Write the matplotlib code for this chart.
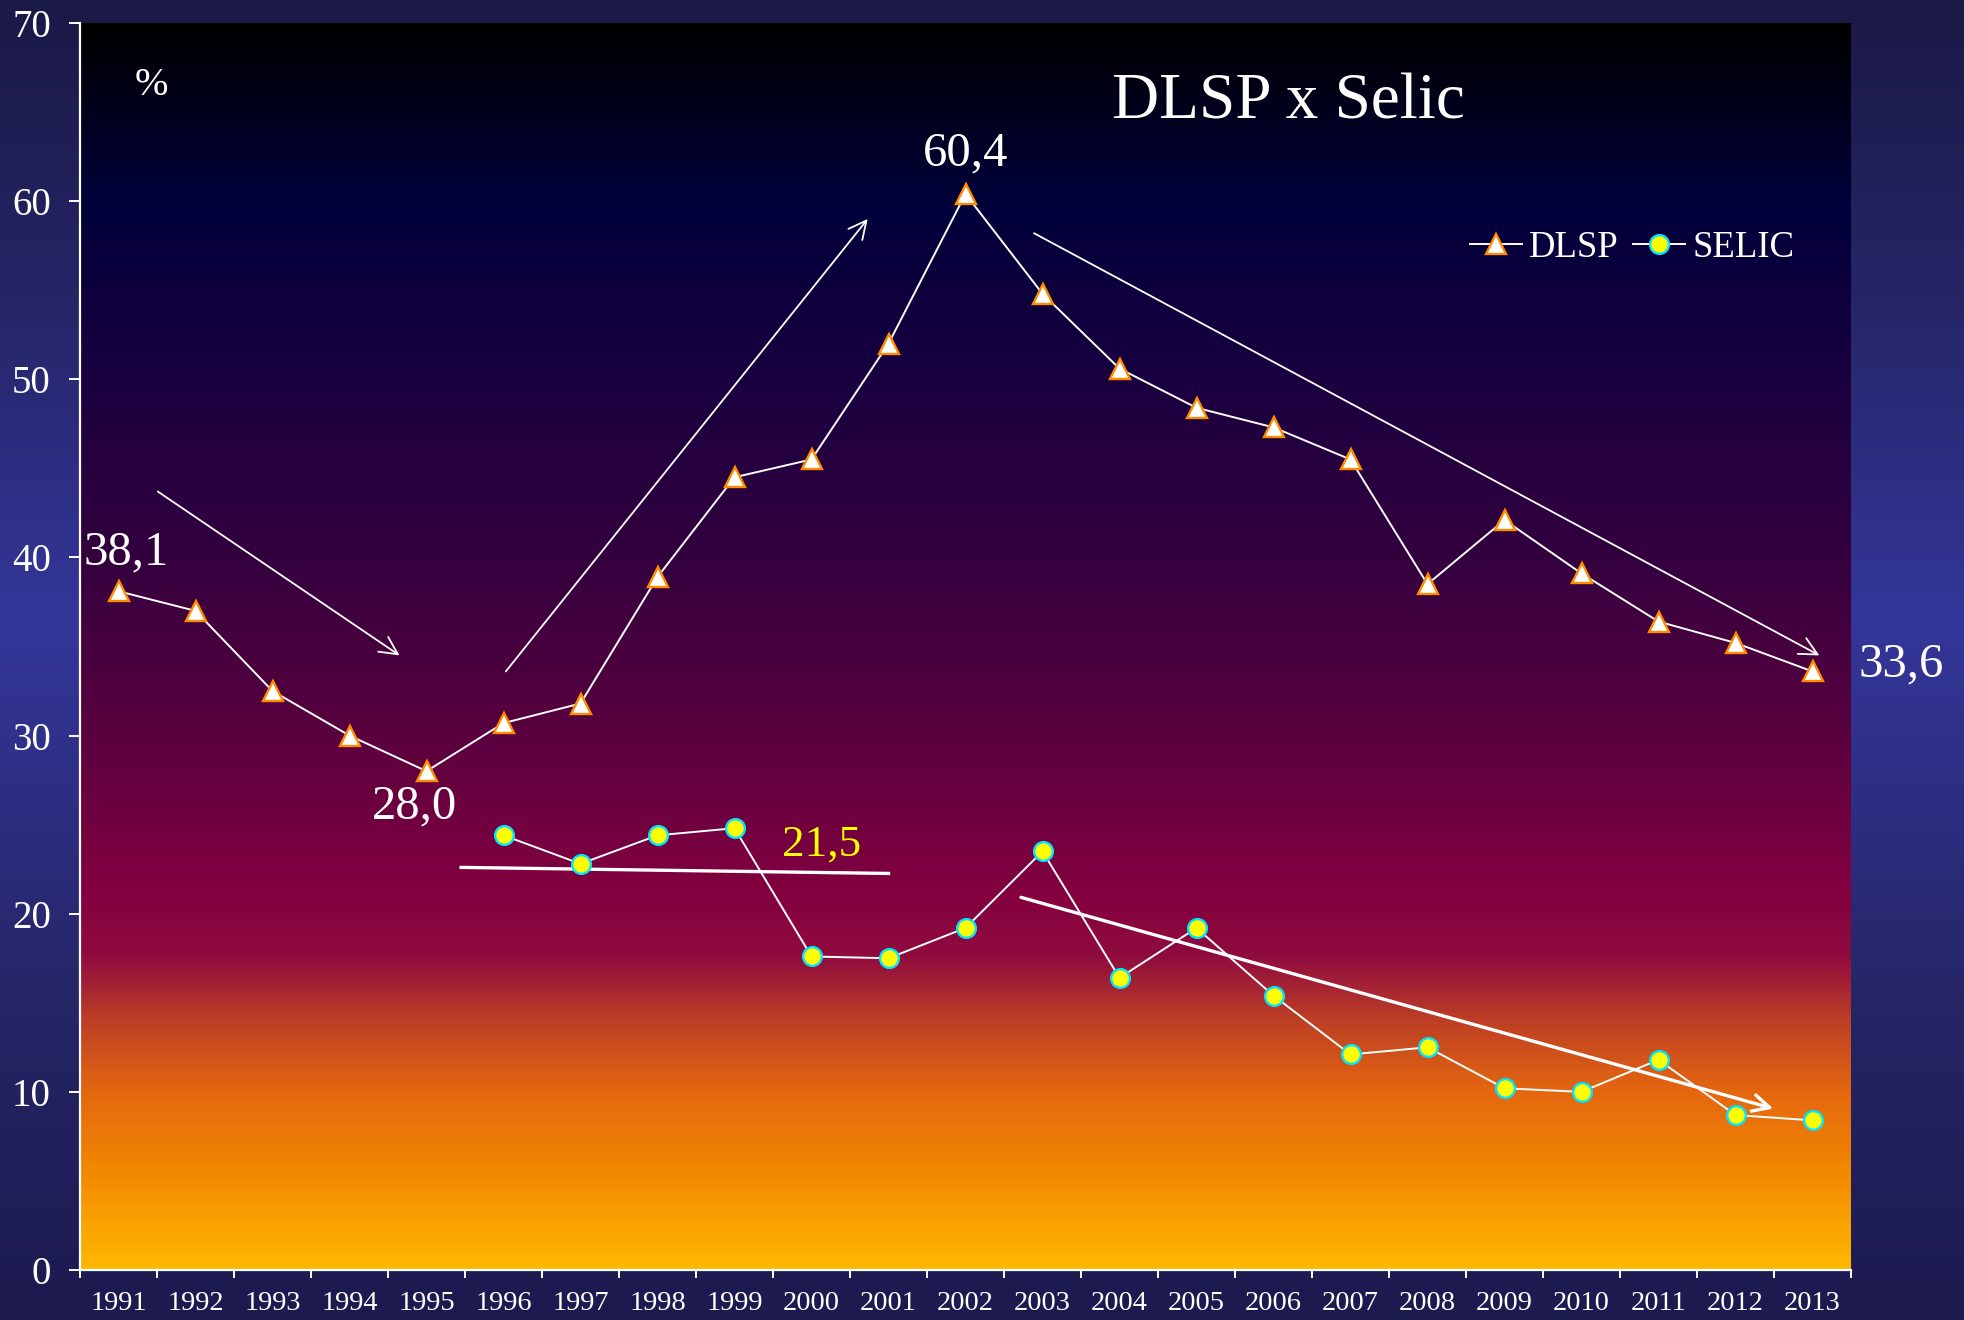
import numpy as np
import matplotlib
matplotlib.use("Agg")
import matplotlib.pyplot as plt
from matplotlib.colors import LinearSegmentedColormap

# ---------------- data ----------------
years = [str(y) for y in range(1991, 2014)]
dlsp = [38.1, 37.0, 32.5, 30.0, 28.0, 30.7, 31.8, 38.9, 44.5, 45.5, 52.0, 60.4,
        54.8, 50.6, 48.4, 47.3, 45.5, 38.5, 42.1, 39.1, 36.4, 35.2, 33.6]
selic_years = [str(y) for y in range(1996, 2014)]
selic = [24.4, 22.8, 24.4, 24.8, 17.6, 17.5, 19.2, 23.5, 16.4, 19.2, 15.4, 12.1,
         12.5, 10.2, 10.0, 11.8, 8.7, 8.4]
yticks = [0, 10, 20, 30, 40, 50, 60, 70]

plt.rcParams['font.family'] = ['Liberation Serif', 'DejaVu Serif']

W, H = 1964, 1320
fig = plt.figure(figsize=(W / 100, H / 100), dpi=100)

# figure background gradient
bg = fig.add_axes([0, 0, 1, 1], zorder=0)
bg_cmap = LinearSegmentedColormap.from_list(
    "figbg", [(0.0, "#1c1a4e"), (0.25, "#262668"), (0.53, "#34369a"),
              (0.78, "#252566"), (1.0, "#1b1946")])
grad = np.linspace(0, 1, 512).reshape(-1, 1)
bg.imshow(grad, aspect='auto', cmap=bg_cmap, extent=[0, 1, 0, 1], origin='lower')
bg.set_axis_off()

# main axes
left, right, top, bottom = 80, 1851, 23, 1270
ax = fig.add_axes([left / W, (H - bottom) / H, (right - left) / W, (bottom - top) / H], zorder=1)
ax.patch.set_alpha(0)

n = len(years)
x = np.arange(n)
ax.set_xlim(-0.5, n - 0.5)
ax.set_ylim(0, 70)

# axes background gradient (by data value)
stops = [(0, "#ffb800"), (5, "#f38c00"), (10, "#e46610"), (14, "#bc3e26"),
         (17.5, "#900c3e"), (21, "#840040"), (30, "#5a003f"), (40, "#34003e"),
         (50, "#1a0040"), (60, "#00003a"), (66, "#000018"), (70, "#000000")]
ax_cmap = LinearSegmentedColormap.from_list("axbg", [(v / 70, c) for v, c in stops])
ax.imshow(np.linspace(0, 1, 1024).reshape(-1, 1), aspect='auto', cmap=ax_cmap,
          extent=[-0.5, n - 0.5, 0, 70], origin='lower', zorder=0)

# series
sx = [years.index(y) for y in selic_years]
ax.plot(x, dlsp, color='white', lw=1.4, marker='^', ms=15, mfc='white',
        mec='#ff8c00', mew=1.7, label='DLSP', zorder=4)
ax.plot(sx, selic, color='white', lw=1.4, marker='o', ms=13.5, mfc='#ffff00',
        mec='#00e5ff', mew=1.7, label='SELIC', zorder=4)

# arrows / trend lines
arrow_kw = dict(arrowstyle='->', color='white', lw=1.3, mutation_scale=32,
                shrinkA=0, shrinkB=0)
ax.annotate('', xy=(3.65, 34.5), xytext=(0.51, 43.7), arrowprops=arrow_kw, zorder=3)
ax.annotate('', xy=(9.73, 59.0), xytext=(5.03, 33.6), arrowprops=arrow_kw, zorder=3)
ax.annotate('', xy=(22.09, 34.5), xytext=(11.89, 58.2), arrowprops=arrow_kw, zorder=3)
ax.plot([4.45, 10.0], [22.6, 22.26], color='white', lw=2.4, zorder=3)
ax.annotate('', xy=(21.49, 9.06), xytext=(11.72, 20.92),
            arrowprops=dict(arrowstyle='->', color='white', lw=2.4, mutation_scale=30,
                            shrinkA=0, shrinkB=0), zorder=3)

# text annotations
tk = dict(color='white', ha='center', va='center', fontsize=35, zorder=5)
ax.text(0.1, 40.3, "38,1", **tk)
ax.text(3.84, 26.0, "28,0", **tk)
ax.text(11.0, 62.7, "60,4", **tk)
ax.text(23.15, 34.0, "33,6", **tk)
ax.text(9.13, 23.9, "21,5", color='#ffff00', ha='center', va='center', fontsize=32.5, zorder=5)
ax.text(15.2, 65.5, "DLSP x Selic", color='white', ha='center', va='center', fontsize=47, zorder=5)
ax.text(0.43, 66.5, "%", color='white', ha='center', va='center', fontsize=29, zorder=5)

# legend
leg = ax.legend(loc='center right', bbox_to_anchor=(0.968, 0.82), ncol=2, frameon=False,
                fontsize=26.5, handlelength=1.4, handletextpad=0.2, columnspacing=0.4,
                borderpad=0, borderaxespad=0)
for t in leg.get_texts():
    t.set_color('white')

# axes styling
for s in ['top', 'right']:
    ax.spines[s].set_visible(False)
for s in ['left', 'bottom']:
    ax.spines[s].set_color('white')
    ax.spines[s].set_linewidth(1.6)
    ax.spines[s].set_zorder(6)

ax.set_yticks(yticks)
ax.set_yticklabels([str(v) for v in yticks])
ax.tick_params(axis='y', colors='white', labelsize=28, length=8, width=1.4, pad=13,
               direction='out')

ax.set_xticks(np.arange(-0.5, n, 1.0))
ax.set_xticklabels([])
ax.set_xticks(x, minor=True)
ax.set_xticklabels(years, minor=True)
ax.tick_params(axis='x', which='major', colors='white', length=6, width=1.4, direction='out')
ax.tick_params(axis='x', which='minor', colors='white', length=0, labelsize=20.5, pad=15)
ax.set_axisbelow(False)

fig.savefig("out.png", dpi=100, facecolor=fig.get_facecolor())
